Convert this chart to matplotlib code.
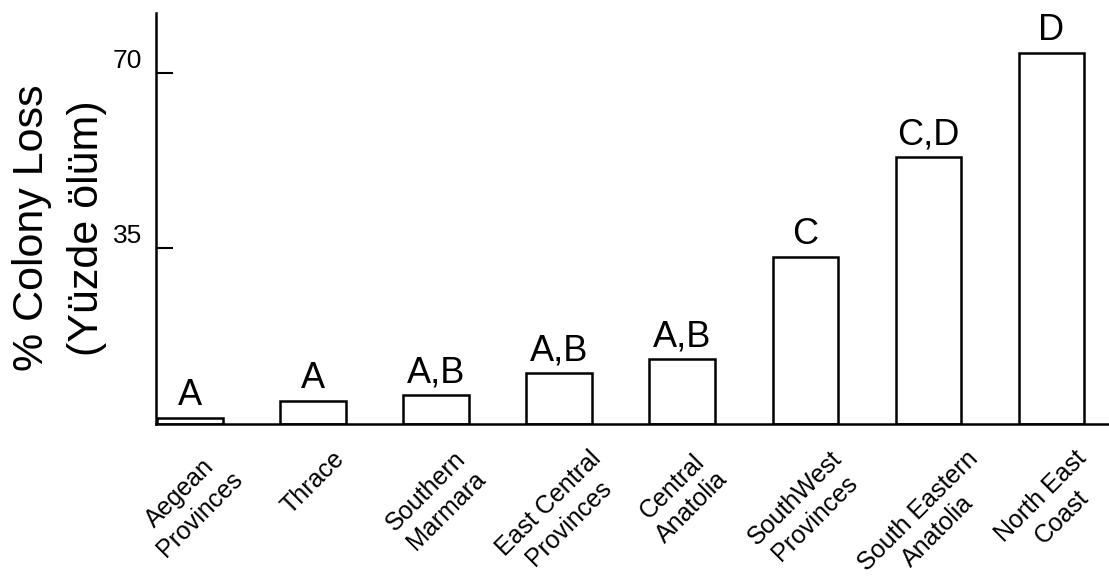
import matplotlib
matplotlib.use("Agg")
import matplotlib.pyplot as plt

plt.rcParams['font.family'] = ['Liberation Sans', 'DejaVu Sans']

regions = ["Aegean\nProvinces", "Thrace", "Southern\nMarmara", "East Central\nProvinces",
           "Central\nAnatolia", "SouthWest\nProvinces", "South Eastern\nAnatolia", "North East\nCoast"]
loss = [1.2, 4.6, 5.8, 10.2, 12.9, 33.3, 53.2, 74.0]
groups = ["A", "A", "A,B", "A,B", "A,B", "C", "C,D", "D"]
yticks = [35, 70]

fig = plt.figure(figsize=(11.09, 5.85), dpi=100)
ax = fig.add_axes([0.1407, 0.2752, 0.8593, 0.7026])

x = range(len(regions))
ax.bar(x, loss, width=0.53, color='white', edgecolor='black', linewidth=1.8)

# letras de grupo acima das barras
for i, (v, g) in enumerate(zip(loss, groups)):
    ax.annotate(g, (i, v), xytext=(0, 9), textcoords='offset points',
                ha='center', va='baseline', fontsize=26)

ax.set_xlim(-0.276, 7.47)
ax.set_ylim(0, 81.9)

for s in ['top', 'right']:
    ax.spines[s].set_visible(False)
for s in ['left', 'bottom']:
    ax.spines[s].set_linewidth(1.8)

ax.set_yticks(yticks)
ax.set_yticklabels([str(t) for t in yticks], fontsize=19, va='bottom')
ax.tick_params(axis='y', direction='in', length=12, width=1.5, pad=10)

ax.set_xticks(list(x))
ax.set_xticklabels(regions, fontsize=18, rotation=45, ha='center', va='top',
                   multialignment='center', linespacing=1.25)
ax.tick_params(axis='x', length=0, pad=16)

ax.set_ylabel("% Colony Loss\n(Yüzde ölüm)", fontsize=31, linespacing=1.5)
ax.yaxis.set_label_coords(-0.051, 0.477)

fig.savefig("out.png", dpi=100)
